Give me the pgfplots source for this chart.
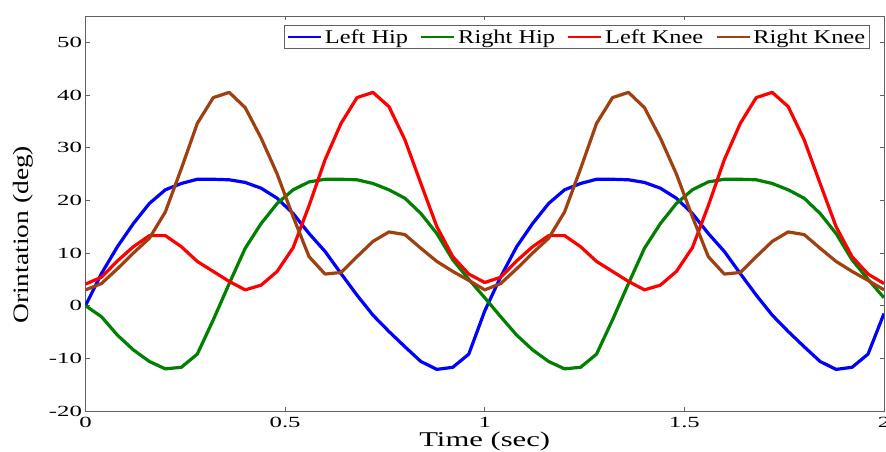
\documentclass[border=0pt]{standalone}
\usepackage{pgfplots}
\usepackage{pgfplotstable}
\pgfplotsset{compat=1.18}
\usepackage{fontspec}
\setmainfont{Liberation Serif}
\usepackage{graphicx}

\definecolor{mblue}{rgb}{0,0,1}
\definecolor{mgreen}{rgb}{0,0.5,0}
\definecolor{mred}{rgb}{1,0,0}
\definecolor{mbrown}{RGB}{160,64,16}
\definecolor{axgray}{gray}{0.38}

\pgfplotstableread{
t     lh     rh     lk     rk
0.00  0.0    0.0    4.1    3.0
0.04  6.1   -2.1    5.4    4.2
0.08  11.2  -5.6    8.5    7.0
0.12  15.6  -8.4    11.2   10.0
0.16  19.4  -10.6   13.3   12.8
0.20  22.0  -12.0   13.3   17.8
0.24  23.2  -11.7   11.2   26.0
0.28  24.0  -9.2    8.4    34.6
0.32  24.0  -2.7    6.5    39.5
0.36  23.9  4.2     4.6    40.5
0.40  23.4  10.9    3.0    37.6
0.44  22.3  15.6    3.9    31.8
0.48  20.4  19.4    6.5    25.0
0.52  17.5  22.0    11.0   16.9
0.56  13.7  23.5    19.0   9.3
0.60  10.3  24.0    27.7   6.0
0.64  6.1   24.0    34.6   6.3
0.68  2.0   23.9    39.5   9.3
0.72  -1.8  23.2    40.5   12.2
0.76  -4.9  22.0    37.8   14.0
0.80  -7.8  20.4    31.5   13.5
0.84  -10.6 17.5    23.2   10.9
0.88  -12.1 13.7    15.0   8.4
0.92  -11.7 8.7     9.3    6.5
0.96  -9.2  5.0     6.0    4.8
1.00  -1.0  1.5     4.4    3.0
1.04  5.5   -2.1    5.4    4.2
1.08  11.2  -5.6    8.5    7.0
1.12  15.6  -8.4    11.2   10.0
1.16  19.4  -10.6   13.3   12.8
1.20  22.0  -12.0   13.3   17.8
1.24  23.2  -11.7   11.2   26.0
1.28  24.0  -9.2    8.4    34.6
1.32  24.0  -2.7    6.5    39.5
1.36  23.9  4.2     4.6    40.5
1.40  23.4  10.9    3.0    37.6
1.44  22.3  15.6    3.9    31.8
1.48  20.4  19.4    6.5    25.0
1.52  17.5  22.0    11.0   16.9
1.56  13.7  23.5    19.0   9.3
1.60  10.3  24.0    27.7   6.0
1.64  6.1   24.0    34.6   6.3
1.68  2.0   23.9    39.5   9.3
1.72  -1.8  23.2    40.5   12.2
1.76  -4.9  22.0    37.8   14.0
1.80  -7.8  20.4    31.5   13.5
1.84  -10.6 17.5    23.2   10.9
1.88  -12.1 13.7    15.0   8.4
1.92  -11.7 8.7     9.3    6.5
1.96  -9.2  5.0     6.0    4.8
2.00  -1.5  1.5     4.2    3.0
}\gaitdata

\newcommand{\tklab}[1]{\scalebox{1.6}[1]{#1}}
\newcommand{\leglab}[1]{\scalebox{1.25}[1]{#1}}

\begin{document}
\begin{tikzpicture}
\useasboundingbox (-85.5bp,-41bp) rectangle (800.5bp,411bp);
\begin{axis}[
  at={(0,0)}, anchor=south west,
  scale only axis,
  width=798.5bp, height=395bp,
  xmin=0, xmax=2, ymin=-20, ymax=55,
  xtick={0,0.5,1,1.5,2},
  xticklabels={\tklab{0},\tklab{0.5},\tklab{1},\tklab{1.5},\tklab{2}},
  ytick={-20,-10,0,10,20,30,40,50},
  yticklabels={\tklab{-20},\tklab{-10},\tklab{0},\tklab{10},\tklab{20},\tklab{30},\tklab{40},\tklab{50}},
  tick label style={font=\fontsize{15.5bp}{18bp}\selectfont},
  xticklabel style={yshift=-3bp},
  tick align=inside,
  major tick length=4.5bp,
  tick style={axgray, line width=0.6bp},
  axis line style={axgray, line width=0.8bp},
  xlabel={\scalebox{1.46}[1]{Time (sec)}},
  xlabel style={font=\fontsize{21bp}{24bp}\selectfont, at={(axis description cs:0.5,0)}, anchor=center, yshift=-30bp},
  ylabel={\scalebox{1.25}[1]{Orintation (deg)}},
  ylabel style={font=\fontsize{22bp}{25bp}\selectfont, at={(axis description cs:0,0.446)}, anchor=center, yshift=62bp},
  legend columns=-1,
  legend style={
    at={(rel axis cs:1,1)}, anchor=north east, xshift=-14bp, yshift=-9bp,
    draw=axgray, line width=0.8bp,
    font=\fontsize{19.5bp}{21bp}\selectfont,
    inner xsep=2bp, inner ysep=1.5bp,
    nodes={inner xsep=2.5bp, inner ysep=2.5bp},
    /tikz/every even column/.append style={column sep=9.5bp},
  },
  legend image code/.code={\draw[#1, line width=2.6bp] (0bp,0bp) -- (33bp,0bp);},
  every axis plot/.append style={line width=3.2bp, line join=round},
]
\addplot[mblue] table[x=t, y=lh] {\gaitdata};
\addlegendentry{\leglab{Left Hip}}
\addplot[mgreen] table[x=t, y=rh] {\gaitdata};
\addlegendentry{\leglab{Right Hip}}
\addplot[mred] table[x=t, y=lk] {\gaitdata};
\addlegendentry{\leglab{Left Knee}}
\addplot[mbrown] table[x=t, y=rk] {\gaitdata};
\addlegendentry{\leglab{Right Knee}}
\end{axis}
\end{tikzpicture}
\end{document}
